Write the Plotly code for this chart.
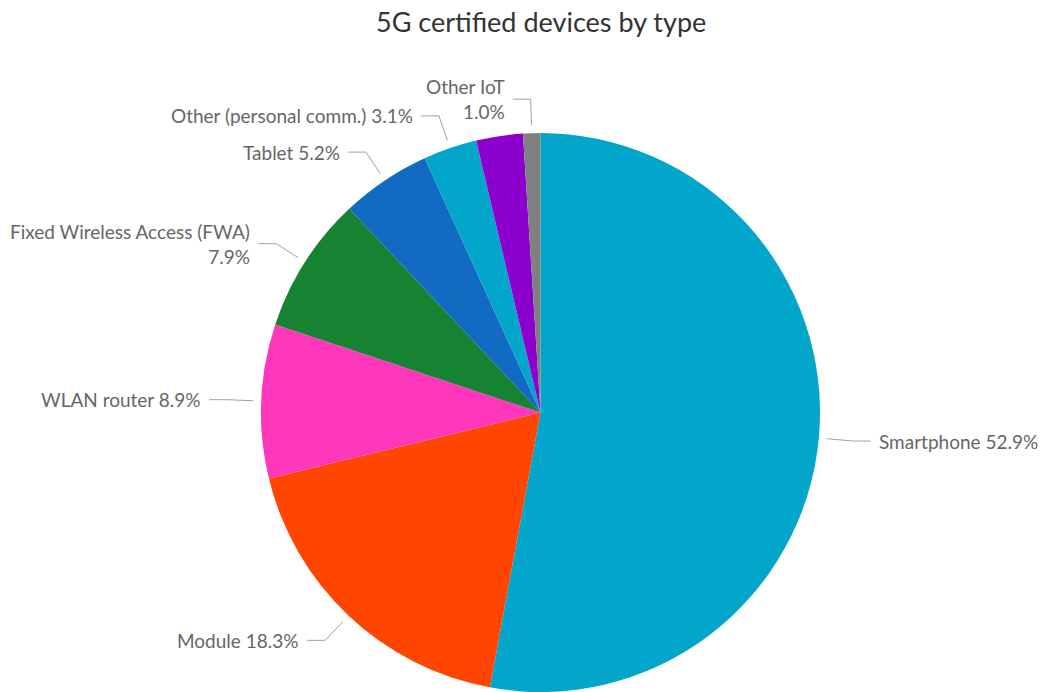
import math
import plotly.graph_objects as go

# Share of 5G certified devices, in percent, clockwise from 12 o'clock
categories = ["Smartphone", "Module", "WLAN router", "Fixed Wireless Access (FWA)",
              "Tablet", "Other (personal comm.)", "Other", "Other IoT"]
shares = [52.9, 18.3, 8.9, 7.9, 5.2, 3.1, 2.7, 1.0]
label_texts = ["Smartphone 52.9%", "Module 18.3%", "WLAN router 8.9%",
               "Fixed Wireless Access (FWA)<br>7.9%", "Tablet 5.2%",
               "Other (personal comm.) 3.1%", None, "Other IoT<br>1.0%"]
colors = ["#02A6CB", "#FF4500", "#FF38BB", "#178232", "#116BC2",
          "#02A6CB", "#8B00CC", "#808080"]

W, H = 1042, 692
CX, CY, R = 540.5, 412.5, 279.5

fig = go.Figure(go.Pie(
    labels=categories, values=shares, sort=False, direction="clockwise",
    rotation=0, marker=dict(colors=colors, line=dict(width=0)),
    textinfo="none", hoverinfo="label+percent", showlegend=False,
    domain=dict(x=[(CX - R) / W, (CX + R) / W], y=[0, 2 * R / H]),
))


def px(x, y):
    return x / W, 1 - y / H


total = sum(shares)
cum = 0.0
shapes, annotations = [], []
for val, txt in zip(shares, label_texts):
    mid = (cum + val / 2) / total * 2 * math.pi
    cum += val
    if txt is None:
        continue
    s, c = math.sin(mid), math.cos(mid)
    x0, y0 = CX + (R + 8) * s, CY - (R + 8) * c
    x1, y1 = CX + (R + 34) * s, CY - (R + 34) * c
    side = 1 if s > 0 else -1
    x2 = x1 + side * 18
    p0, p1, p2 = px(x0, y0), px(x1, y1), px(x2, y1)
    shapes.append(dict(
        type="path", xref="paper", yref="paper",
        path=f"M {p0[0]} {p0[1]} L {p1[0]} {p1[1]} L {p2[0]} {p2[1]}",
        line=dict(color="#A0A0A0", width=1),
    ))
    lx, ly = px(x2 + side * 6, y1)
    annotations.append(dict(
        x=lx, y=ly, xref="paper", yref="paper", text=txt, showarrow=False,
        xanchor="left" if side > 0 else "right", yanchor="middle",
        align="left" if side > 0 else "right",
        font=dict(family="Lato, sans-serif", size=19, color="#666666"),
    ))

annotations.append(dict(
    x=CX / W, y=1 - 21 / H, xref="paper", yref="paper",
    text="5G certified devices by type", showarrow=False,
    xanchor="center", yanchor="middle",
    font=dict(family="Lato, sans-serif", size=27, color="#333333"),
))

fig.update_layout(
    width=W, height=H, margin=dict(l=0, r=0, t=0, b=0),
    paper_bgcolor="white", plot_bgcolor="white",
    shapes=shapes, annotations=annotations,
)

fig.write_html("out.html")
